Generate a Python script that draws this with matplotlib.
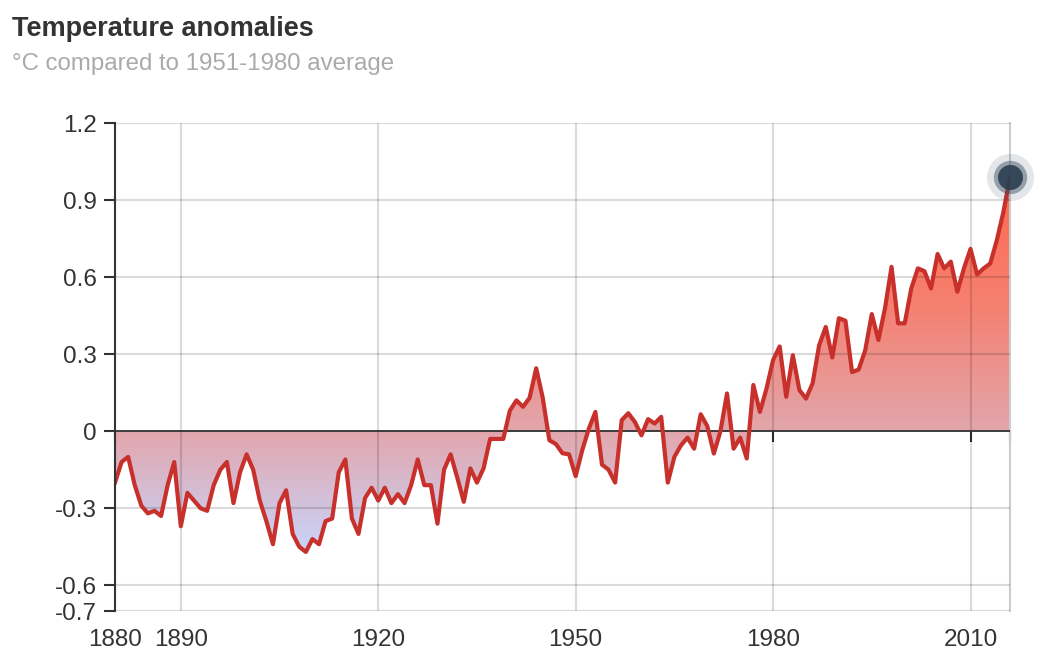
import numpy as np
import matplotlib
matplotlib.use("Agg")
import matplotlib.pyplot as plt
from matplotlib.colors import LinearSegmentedColormap
from matplotlib.patches import PathPatch

years = list(range(1880, 2017))
anomalies = [
    -0.20, -0.12, -0.10, -0.21, -0.29, -0.32, -0.31, -0.33, -0.21, -0.12,   # 1880s
    -0.37, -0.24, -0.27, -0.30, -0.31, -0.21, -0.15, -0.12, -0.28, -0.16,   # 1890s
    -0.09, -0.15, -0.27, -0.35, -0.44, -0.28, -0.23, -0.40, -0.45, -0.47,   # 1900s
    -0.42, -0.44, -0.35, -0.34, -0.16, -0.11, -0.34, -0.40, -0.26, -0.22,   # 1910s
    -0.27, -0.22, -0.28, -0.245, -0.28, -0.21, -0.11, -0.21, -0.21, -0.36,  # 1920s
    -0.15, -0.09, -0.18, -0.275, -0.145, -0.20, -0.145, -0.03, -0.03, -0.03,  # 1930s
    0.08, 0.12, 0.095, 0.13, 0.245, 0.13, -0.035, -0.05, -0.086, -0.09,     # 1940s
    -0.175, -0.074, 0.01, 0.075, -0.13, -0.15, -0.20, 0.043, 0.07, 0.036,   # 1950s
    -0.016, 0.047, 0.03, 0.056, -0.20, -0.10, -0.055, -0.025, -0.068, 0.066,  # 1960s
    0.02, -0.087, 0.0, 0.147, -0.068, -0.025, -0.106, 0.18, 0.075, 0.166,   # 1970s
    0.277, 0.33, 0.134, 0.296, 0.16, 0.127, 0.186, 0.335, 0.406, 0.287,     # 1980s
    0.44, 0.43, 0.23, 0.24, 0.315, 0.456, 0.355, 0.478, 0.64, 0.42,         # 1990s
    0.42, 0.556, 0.634, 0.623, 0.556, 0.69, 0.634, 0.66, 0.543, 0.634,      # 2000s
    0.71, 0.61, 0.634, 0.653, 0.744, 0.854, 0.99,                           # 2010s
]
x_ticks = [1880, 1890, 1920, 1950, 1980, 2010]
y_ticks = [1.2, 0.9, 0.6, 0.3, 0, -0.3, -0.6, -0.7]
y_tick_labels = ["1.2", "0.9", "0.6", "0.3", "0", "-0.3", "-0.6", "-0.7"]
title = "Temperature anomalies"
subtitle = "°C compared to 1951-1980 average"

plt.rcParams['font.family'] = ['Liberation Sans', 'DejaVu Sans']

W, H = 1042, 672
fig = plt.figure(figsize=(W / 100, H / 100), dpi=100)
L, R, T, B = 115, 1010, 123, 611
ax = fig.add_axes([L / W, 1 - B / H, (R - L) / W, (B - T) / H])

x = np.array(years, dtype=float)
y = np.array(anomalies, dtype=float)

# gradient fill between line and zero
vmin, vmax = y.min(), y.max()
cmap = LinearSegmentedColormap.from_list(
    "grad",
    [(0.0, (200/255, 212/255, 250/255)),
     ((0 - vmin) / (vmax - vmin), (226/255, 166/255, 172/255)),
     ((0.5 - vmin) / (vmax - vmin), (246/255, 128/255, 112/255)),
     (1.0, (255/255, 104/255, 78/255))])
poly = ax.fill_between(x, y, 0, color='none', lw=0)
grad = np.linspace(0, 1, 256).reshape(-1, 1)
im = ax.imshow(grad, cmap=cmap, origin='lower', aspect='auto',
               extent=[x[0], x[-1], vmin, vmax], zorder=1, interpolation='bilinear')
patch = PathPatch(poly.get_paths()[0], transform=ax.transData,
                  facecolor='none', edgecolor='none')
ax.add_patch(patch)
im.set_clip_path(patch)
ax.set_xlim(x[0], x[-1])
ax.set_ylim(-0.7, 1.2)

# grid
ax.set_axisbelow(False)
ax.set_xticks(x_ticks)
ax.set_yticks(y_ticks)
ax.set_yticklabels(y_tick_labels)
ax.grid(True, color='black', alpha=0.14, lw=1.5, zorder=2)

# zero line
ax.axhline(0, color='#333333', lw=1.3, zorder=3)

# data line
ax.plot(x, y, color='#c8302c', lw=3.0, zorder=4)

# highlighted last point
ax.plot(x[-1], y[-1], 'o', ms=34, color='#34495e', alpha=0.13, mew=0, zorder=5, clip_on=False)
ax.plot(x[-1], y[-1], 'o', ms=24, color='#34495e', alpha=0.45, mew=0, zorder=6, clip_on=False)
ax.plot(x[-1], y[-1], 'o', ms=18, color='#2c3e50', alpha=0.9, mew=0, zorder=7, clip_on=False)

# spines
for s in ['top', 'bottom']:
    ax.spines[s].set_visible(False)
ax.spines['right'].set_color('#cccccc')
ax.spines['right'].set_linewidth(1.5)
ax.spines['left'].set_color('#333333')
ax.spines['left'].set_linewidth(1.5)
ax.spines['left'].set_zorder(8)

ax.tick_params(axis='y', direction='out', length=8, width=1.5, color='#333333',
               labelcolor='#333333', labelsize=17.5, pad=5)
ax.tick_params(axis='x', length=0, labelcolor='#333333', labelsize=17.5, pad=13)

# secondary x axis at y=0 with tick marks
sec = ax.secondary_xaxis(0, transform=ax.transData)
sec.set_xticks(x_ticks + [years[-1]])
sec.set_xticklabels([])
sec.tick_params(direction='out', length=8, width=1.5, color='#333333')
sec.spines['bottom'].set_visible(False)

fig.text(12 / W, 1 - 36 / H, title, fontsize=19.5, fontweight='bold', color='#333333',
         ha='left', va='baseline')
fig.text(12 / W, 1 - 70 / H, subtitle, fontsize=17.3, color='#aaaaaa',
         ha='left', va='baseline')

fig.savefig("out.png", dpi=100)
